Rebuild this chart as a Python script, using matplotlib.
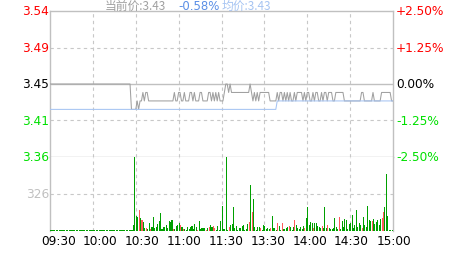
import matplotlib
matplotlib.use("Agg")
from matplotlib import pyplot as plt

plt.rcParams['font.family'] = ['DejaVu Sans', 'Noto Sans CJK SC']

W, H = 463, 255
pre_close = 3.45
times = ['09:30', '10:00', '10:30', '11:00', '11:30', '13:30', '14:00', '14:30', '15:00']

# minute prices 0..240
price = [
    3.45, 3.45, 3.45, 3.45, 3.45, 3.45, 3.45, 3.45, 3.45, 3.45, 3.45, 3.45, 3.45, 3.45, 3.45, 3.45, 3.45, 3.45, 3.45, 3.45,
    3.45, 3.45, 3.45, 3.45, 3.45, 3.45, 3.45, 3.45, 3.45, 3.45, 3.45, 3.45, 3.45, 3.45, 3.45, 3.45, 3.45, 3.45, 3.45, 3.45,
    3.45, 3.45, 3.45, 3.45, 3.45, 3.45, 3.45, 3.45, 3.45, 3.45, 3.45, 3.45, 3.45, 3.45, 3.45, 3.45, 3.45, 3.42, 3.42, 3.42,
    3.42, 3.43, 3.42, 3.43, 3.43, 3.44, 3.43, 3.44, 3.44, 3.43, 3.43, 3.43, 3.43, 3.43, 3.43, 3.43, 3.43, 3.43, 3.43, 3.43,
    3.43, 3.43, 3.43, 3.43, 3.43, 3.43, 3.43, 3.44, 3.43, 3.43, 3.44, 3.44, 3.43, 3.43, 3.44, 3.43, 3.43, 3.43, 3.44, 3.44,
    3.43, 3.44, 3.43, 3.43, 3.43, 3.44, 3.44, 3.43, 3.43, 3.43, 3.43, 3.44, 3.44, 3.43, 3.44, 3.43, 3.44, 3.43, 3.44, 3.43,
    3.43, 3.43, 3.44, 3.45, 3.45, 3.44, 3.45, 3.44, 3.44, 3.44, 3.44, 3.44, 3.44, 3.44, 3.44, 3.44, 3.44, 3.44, 3.44, 3.44,
    3.45, 3.44, 3.43, 3.44, 3.43, 3.44, 3.43, 3.44, 3.44, 3.44, 3.44, 3.44, 3.44, 3.44, 3.43, 3.43, 3.43, 3.43, 3.43, 3.44,
    3.43, 3.44, 3.44, 3.43, 3.44, 3.43, 3.44, 3.43, 3.44, 3.43, 3.43, 3.44, 3.43, 3.44, 3.44, 3.44, 3.44, 3.43, 3.44, 3.43,
    3.44, 3.44, 3.43, 3.43, 3.44, 3.43, 3.44, 3.44, 3.43, 3.43, 3.44, 3.43, 3.44, 3.44, 3.43, 3.44, 3.44, 3.44, 3.43, 3.43,
    3.44, 3.44, 3.44, 3.44, 3.44, 3.44, 3.43, 3.43, 3.43, 3.43, 3.43, 3.43, 3.43, 3.43, 3.43, 3.43, 3.43, 3.43, 3.44, 3.44,
    3.43, 3.43, 3.43, 3.43, 3.43, 3.43, 3.44, 3.43, 3.43, 3.43, 3.43, 3.43, 3.44, 3.44, 3.44, 3.44, 3.44, 3.44, 3.44, 3.43,
    3.43,
]

# average price
avg = [
    3.42, 3.42, 3.42, 3.42, 3.42, 3.42, 3.42, 3.42, 3.42, 3.42, 3.42, 3.42, 3.42, 3.42, 3.42, 3.42, 3.42, 3.42, 3.42, 3.42,
    3.42, 3.42, 3.42, 3.42, 3.42, 3.42, 3.42, 3.42, 3.42, 3.42, 3.42, 3.42, 3.42, 3.42, 3.42, 3.42, 3.42, 3.42, 3.42, 3.42,
    3.42, 3.42, 3.42, 3.42, 3.42, 3.42, 3.42, 3.42, 3.42, 3.42, 3.42, 3.42, 3.42, 3.42, 3.42, 3.42, 3.42, 3.42, 3.42, 3.42,
    3.42, 3.42, 3.42, 3.42, 3.42, 3.42, 3.42, 3.42, 3.42, 3.42, 3.42, 3.42, 3.42, 3.42, 3.42, 3.42, 3.42, 3.42, 3.42, 3.42,
    3.42, 3.42, 3.42, 3.42, 3.42, 3.42, 3.42, 3.42, 3.42, 3.42, 3.42, 3.42, 3.42, 3.42, 3.42, 3.42, 3.42, 3.42, 3.42, 3.42,
    3.42, 3.42, 3.42, 3.42, 3.42, 3.42, 3.42, 3.42, 3.42, 3.42, 3.42, 3.42, 3.42, 3.42, 3.42, 3.42, 3.42, 3.42, 3.42, 3.42,
    3.42, 3.42, 3.42, 3.42, 3.42, 3.42, 3.42, 3.42, 3.42, 3.42, 3.42, 3.42, 3.42, 3.42, 3.42, 3.42, 3.42, 3.42, 3.42, 3.42,
    3.42, 3.42, 3.42, 3.42, 3.42, 3.42, 3.42, 3.42, 3.42, 3.42, 3.42, 3.42, 3.42, 3.42, 3.42, 3.42, 3.42, 3.42, 3.42, 3.43,
    3.43, 3.43, 3.43, 3.43, 3.43, 3.43, 3.43, 3.43, 3.43, 3.43, 3.43, 3.43, 3.43, 3.43, 3.43, 3.43, 3.43, 3.43, 3.43, 3.43,
    3.43, 3.43, 3.43, 3.43, 3.43, 3.43, 3.43, 3.43, 3.43, 3.43, 3.43, 3.43, 3.43, 3.43, 3.43, 3.43, 3.43, 3.43, 3.43, 3.43,
    3.43, 3.43, 3.43, 3.43, 3.43, 3.43, 3.43, 3.43, 3.43, 3.43, 3.43, 3.43, 3.43, 3.43, 3.43, 3.43, 3.43, 3.43, 3.43, 3.43,
    3.43, 3.43, 3.43, 3.43, 3.43, 3.43, 3.43, 3.43, 3.43, 3.43, 3.43, 3.43, 3.43, 3.43, 3.43, 3.43, 3.43, 3.43, 3.43, 3.43,
    3.43,
]

# minute volumes
vol = [
    9, 9, 9, 9, 9, 9, 9, 9, 9, 9, 9, 9, 9, 9, 9, 9, 9, 9, 9, 9,
    9, 9, 9, 9, 9, 9, 9, 9, 9, 9, 9, 9, 9, 9, 9, 9, 9, 9, 9, 9,
    9, 9, 9, 9, 9, 9, 9, 9, 9, 9, 9, 9, 9, 9, 9, 9, 9, 9, 53, 652,
    133, 118, 183, 112, 95, 74, 24, 24, 15, 68, 15, 30, 121, 24, 36, 59, 86, 157, 15, 30,
    36, 53, 24, 86, 80, 95, 15, 15, 44, 53, 68, 50, 30, 15, 15, 9, 36, 15, 30, 44,
    15, 59, 30, 9, 89, 15, 24, 24, 24, 9, 24, 36, 53, 30, 44, 24, 10, 44, 10, 89,
    222, 15, 15, 652, 10, 36, 53, 59, 213, 24, 44, 10, 24, 24, 44, 53, 10, 15, 59, 74,
    400, 169, 281, 36, 10, 36, 36, 24, 10, 53, 41, 15, 24, 15, 24, 133, 24, 24, 10, 68,
    44, 10, 68, 15, 15, 24, 36, 44, 36, 10, 36, 98, 53, 24, 15, 36, 15, 44, 24, 112,
    213, 53, 74, 68, 24, 68, 68, 41, 36, 24, 44, 24, 213, 24, 53, 24, 15, 15, 24, 112,
    36, 15, 121, 15, 86, 36, 104, 95, 15, 59, 68, 139, 24, 53, 183, 36, 68, 53, 24, 121,
    53, 36, 222, 95, 86, 89, 104, 59, 74, 98, 53, 104, 112, 169, 213, 503, 133, 6, 6, 6,
    379,
]
red_minutes = [62, 64, 67, 70, 86, 91, 93, 103, 109, 111, 114, 115, 125, 139, 141, 147, 154,
               159, 162, 167, 171, 178, 184, 190, 194, 202, 218, 225, 232, 233]

fig = plt.figure(figsize=(W / 100, H / 100), dpi=100)
fig.patch.set_facecolor('white')

L, R = 50, 393
ax = fig.add_axes([L / W, (H - 158) / H, (R - L) / W, 146 / H])
axv = fig.add_axes([L / W, (H - 231.7) / H, (R - L) / W, 73.7 / H])

grid_c = '#c8c8c8'
line_c = '#c0c0c0'
minutes = list(range(len(price)))

# price panel
ax.plot(minutes, price, color='#a0a0a0', lw=0.75, zorder=3)
ax.plot(minutes, avg, color='#a6c4f2', lw=0.75, zorder=3)
lo, hi = pre_close * (1 - 0.025), pre_close * (1 + 0.025)
ax.set_ylim(lo, hi)
ax.set_xlim(0, 240)
levels = [pre_close * (1 + k * 0.0125) for k in (2, 1, 0, -1, -2)]
pcts = ['+2.50%', '+1.25%', '0.00%', '-1.25%', '-2.50%']
cols = ['#ff0000', '#ff0000', '#000000', '#00e000', '#00e000']
for lv, pc, c in zip(levels, pcts, cols):
    ax.text(-0.7, lv, '%.2f' % lv, color=c, fontsize=8.7, ha='right', va='center')
    ax.text(242.2, lv, pc, color=c, fontsize=8.7, ha='left', va='center')
ax.axhline(levels[1], color=grid_c, lw=0.8, ls=(0, (3, 3)), zorder=1)
ax.axhline(levels[3], color=grid_c, lw=0.8, ls=(0, (3, 3)), zorder=1)
ax.axhline(pre_close, color=line_c, lw=1, zorder=1)

# volume panel
vmax = max(vol)
colors = ['#ff5a5a' if i in red_minutes else '#00a000' for i in minutes]
axv.bar(minutes, vol, width=0.75, color=colors, align='edge', zorder=3,
        linewidth=0, antialiased=False)
axv.set_ylim(0, vmax)
axv.set_xlim(0, 240)
axv.axhline(vmax / 2, color=grid_c, lw=0.8, ls=(0, (3, 3)), zorder=1)
axv.text(-0.7, vmax / 2, '%d' % (vmax / 2), color='#c0c0c0', fontsize=8.7, ha='right', va='center')

for a in (ax, axv):
    for k in range(1, 8):
        a.axvline(k * 30, color=grid_c, lw=0.8, ls=(0, (3, 3)), zorder=1)
    a.set_xticks([])
    a.set_yticks([])
    for s in a.spines.values():
        s.set_color(line_c)
        s.set_linewidth(1)
axv.spines['top'].set_visible(False)
axv.spines['bottom'].set_visible(False)

# time labels (slightly uneven spacing, as in the source)
px_per_min = (R - L) / 240
for k, t in enumerate(times):
    xpos = (8.3 + 41.9 * k) / px_per_min
    axv.text(xpos, -3.0 * vmax / 73.7, t, fontsize=8.7, ha='center', va='top', color='#000000')

# header
fig.text(105 / W, 1 - 9.5 / H, '当前价:3.43', color='#a0a0a0', fontsize=8.5,
         family=['Noto Sans CJK SC', 'DejaVu Sans'], va='baseline')
fig.text(178 / W, 1 - 9.5 / H, '-0.58%', color='#5b8fe6', fontsize=8.5, va='baseline')
fig.text(222 / W, 1 - 9.5 / H, '均价:3.43', color='#a6c4f2', fontsize=8.5,
         family=['Noto Sans CJK SC', 'DejaVu Sans'], va='baseline')

fig.savefig('out.png', dpi=100, facecolor='white')
